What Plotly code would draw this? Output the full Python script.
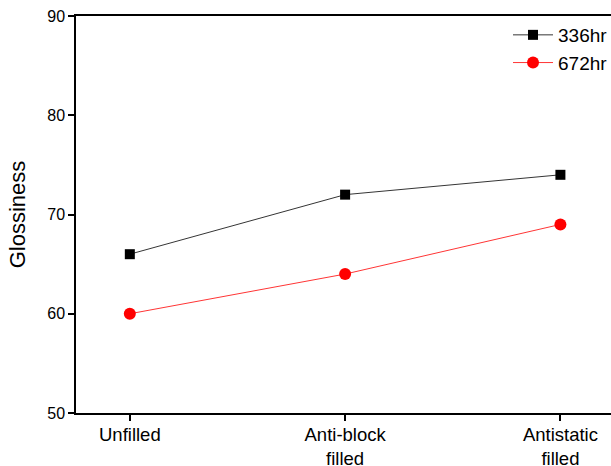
import plotly.graph_objects as go

categories = ["Unfilled", "Anti-block<br>filled", "Antistatic<br>filled"]
series_336 = [66, 72, 74]
series_672 = [60, 64, 69]
y_ticks = [50, 60, 70, 80, 90]

x_pos = list(range(len(categories)))

fig = go.Figure()
fig.add_trace(go.Scatter(
    x=x_pos, y=series_336, name="336hr", mode="lines+markers",
    line=dict(color="black", width=0.8),
    marker=dict(symbol="square", size=10, color="black"),
))
fig.add_trace(go.Scatter(
    x=x_pos, y=series_672, name="672hr", mode="lines+markers",
    line=dict(color="red", width=0.8),
    marker=dict(symbol="circle", size=12, color="red"),
))

fig.update_layout(
    width=611, height=466,
    margin=dict(l=76, r=0, t=16, b=53, autoexpand=False),
    paper_bgcolor="white", plot_bgcolor="white",
    font=dict(family="Liberation Sans, Arial, sans-serif", size=16, color="black"),
    showlegend=True,
    legend=dict(x=0.8075, y=1.0, xanchor="left", yanchor="top",
                bgcolor="rgba(0,0,0,0)", font=dict(size=19), tracegroupgap=0,
                itemwidth=40),
)
fig.update_xaxes(
    range=[-0.25, 2.235], automargin=False,
    tickmode="array", tickvals=x_pos, ticktext=categories,
    showline=True, linecolor="black", linewidth=1.5, mirror=True,
    ticks="outside", ticklen=6, tickwidth=1.5, tickcolor="black",
    showgrid=False, zeroline=False,
    tickfont=dict(size=18.5),
    ticklabelstandoff=-2,
)
fig.update_yaxes(
    range=[50, 90], automargin=False,
    tickmode="array", tickvals=y_ticks,
    showline=True, linecolor="black", linewidth=1.5, mirror=True,
    ticks="outside", ticklen=6, tickwidth=1.5, tickcolor="black",
    showgrid=False, zeroline=False,
    title_text="Glossiness", title_font_size=22, title_standoff=16,
    tickfont=dict(size=16),
)

fig.write_html(
    "out.html",
    config={"displayModeBar": False},
    post_script="document.body.style.margin='0';document.body.style.overflow='hidden';",
)
